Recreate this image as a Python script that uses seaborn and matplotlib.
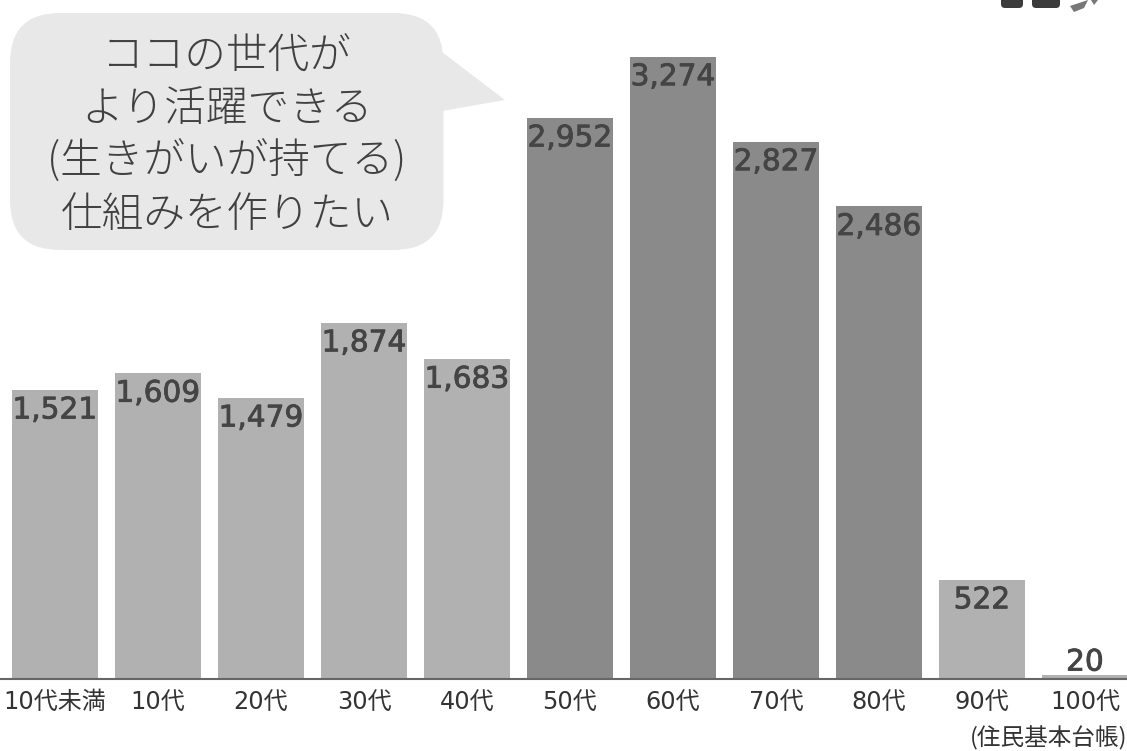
import matplotlib
matplotlib.use("Agg")
import matplotlib.pyplot as plt
import matplotlib.patheffects as pe
import seaborn as sns
import pandas as pd
from matplotlib.patches import FancyBboxPatch, Polygon
from matplotlib.transforms import Affine2D

categories = ["10代未満", "10代", "20代", "30代", "40代", "50代", "60代", "70代", "80代", "90代", "100代"]
population = [1521, 1609, 1479, 1874, 1683, 2952, 3274, 2827, 2486, 522, 20]
groups = ["other", "other", "other", "other", "other", "focus", "focus", "focus", "focus", "other", "other"]
bubble_lines = ["ココの世代が", "より活躍できる", "(生きがいが持てる)", "仕組みを作りたい"]
source_note = "(住民基本台帳)"

sns.set_theme(style="white")
plt.rcParams["font.family"] = ["DejaVu Sans", "Noto Sans CJK JP"]

W, H = 1127, 751
fig = plt.figure(figsize=(W / 100, H / 100), dpi=100)
ax = fig.add_axes([0, 72 / H, 1, 679 / H])
df = pd.DataFrame({"cat": categories, "pop": population, "group": groups})
sns.barplot(data=df, x="cat", y="pop", hue="group", dodge=False, legend=False, ax=ax,
            palette={"other": "#b1b1b1", "focus": "#8a8a8a"}, width=0.84, saturation=1,
            linewidth=0, edgecolor="none")
ax.set_xlim(-0.534, 10.408)
ax.set_ylim(0, 3572)
ax.set_xlabel("")
ax.set_ylabel("")
ax.set_yticks([])
ax.tick_params(axis="x", length=0, pad=8, labelsize=17.3, labelcolor="#333333")
for s in ["top", "left", "right"]:
    ax.spines[s].set_visible(False)
ax.spines["bottom"].set_color("#666666")
ax.spines["bottom"].set_linewidth(1.5)

stroke = [pe.withStroke(linewidth=0.6, foreground="#444444")]
for i, v in enumerate(population):
    if v < 100:
        ax.annotate(f"{v:,}", (i, v), xytext=(0, -1), textcoords="offset points",
                    ha="center", va="bottom", fontsize=21.3, color="#444444", path_effects=stroke)
    else:
        ax.annotate(f"{v:,}", (i, v), xytext=(0, -4), textcoords="offset points",
                    ha="center", va="top", fontsize=21.3, color="#444444", path_effects=stroke)

# pixel coordinates with origin at the top-left corner
px = Affine2D().scale(1, -1).translate(0, H)
fig.patches.append(FancyBboxPatch((48, 51), 357.5, 161, boxstyle="round,pad=38,rounding_size=50",
                                  transform=px, fc="#e8e8e8", ec="none", figure=fig))
fig.patches.append(Polygon([(442, 52), (505, 100), (442, 111)], closed=True, transform=px,
                           fc="#e8e8e8", ec="none", figure=fig))
for y, line in zip([57, 109, 162, 215], bubble_lines):
    fig.text(227 / W, 1 - y / H, line, ha="center", va="center", fontsize=30,
             color="#404040", family=["Noto Sans CJK JP"], fontweight="light")
fig.text(1127 / W, 1 - 738 / H, source_note, ha="right", va="center", fontsize=17,
         color="#333333", family=["Noto Sans CJK JP"])

# cropped icon fragments along the top edge
for x0, x1 in [(1001, 1023), (1032, 1060)]:
    fig.patches.append(FancyBboxPatch((x0 + 4, -6), x1 - x0 - 8, 10, boxstyle="round,pad=4,rounding_size=4",
                                      transform=px, fc="#3c3c3c", ec="none", figure=fig))
fig.patches.append(Polygon([(1070, 6), (1088, 0), (1084, 8), (1074, 12)], closed=True, transform=px,
                           fc="#777777", ec="none", figure=fig))
fig.patches.append(Polygon([(1091, 0), (1098, 0), (1094, 5)], closed=True, transform=px,
                           fc="#777777", ec="none", figure=fig))

fig.savefig("out.png", dpi=100)
